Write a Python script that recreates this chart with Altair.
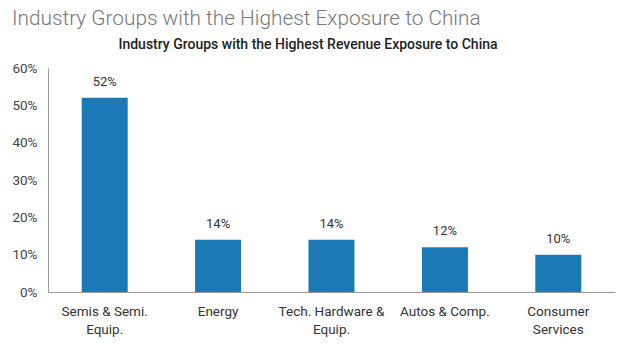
import altair as alt
import pandas as pd

categories = ["Semis & Semi.\nEquip.", "Energy", "Tech. Hardware &\nEquip.", "Autos & Comp.", "Consumer\nServices"]
values = [0.52, 0.14, 0.14, 0.12, 0.10]
labels = ["52%", "14%", "14%", "12%", "10%"]
main_title = "Industry Groups with the Highest Exposure to China"
sub_title = "Industry Groups with the Highest Revenue Exposure to China"

df = pd.DataFrame({"cat": categories, "val": values, "lab": labels})

FONT = "Roboto"

x = alt.X("cat:N", sort=None, title=None,
          axis=alt.Axis(labelAngle=0, labelExpr="split(datum.label, '\\n')",
                        labelFont=FONT, labelFontSize=13.5, labelColor="#333",
                        labelPadding=12, ticks=False, domainColor="#999",
                        labelLineHeight=18, labelLimit=200))
y = alt.Y("val:Q", title=None, scale=alt.Scale(domain=[0, 0.6], nice=False),
          axis=alt.Axis(format=".0%", values=[0, 0.1, 0.2, 0.3, 0.4, 0.5, 0.6],
                        grid=False, ticks=False, domainColor="#999", labelOverlap=False,
                        labelFont=FONT, labelFontSize=13.5, labelColor="#444",
                        labelPadding=11))

bars = alt.Chart(df).mark_bar(size=46, color="#1b79b5").encode(x=x, y=y)
text = alt.Chart(df).mark_text(dy=-9, baseline="bottom", font=FONT, fontSize=13, color="#333").encode(
    x=x, y=y, text="lab:N")

sub = alt.Chart(pd.DataFrame({"t": [sub_title]})).mark_text(
    font=FONT, fontSize=14, fontWeight=500, color="#222", baseline="bottom", clip=False
).encode(x=alt.value(260), y=alt.value(-16), text="t:N")

chart = alt.layer(bars, text, sub).properties(
    width=567, height=224,
    title=alt.TitleParams(main_title, anchor="start", dx=0, font=FONT, fontSize=20.8,
                          fontWeight=300, color="#777", offset=8),
    autosize=alt.AutoSizeParams(type="none"),
    padding={"left": 48, "top": 68, "right": 5, "bottom": 53},
).configure_view(stroke=None)

chart.save("out.html", embed_options={"renderer": "svg", "actions": False})
